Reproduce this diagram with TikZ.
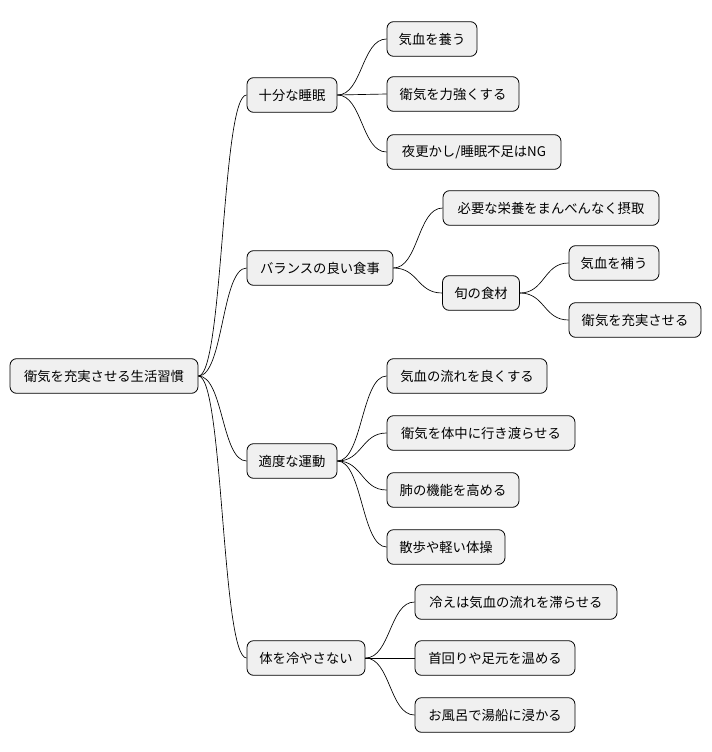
\documentclass[tikz,border=0pt]{standalone}
\usepackage{fontspec}
\newfontfamily\jp{Noto Sans CJK JP}
\begin{document}
\begin{tikzpicture}[x=0.75pt,y=-0.75pt,
  box/.style={draw=black,line width=0.6pt,fill=black!6,rounded corners=5pt,minimum height=26pt,inner sep=0pt,font=\jp\fontsize{10}{12}\selectfont},
  link/.style={draw=black,line width=0.5pt}]
\useasboundingbox (0,0) rectangle (712,752);
\newcommand\bx[4]{\node[box,minimum width=#3*0.75pt] (#1) at #2 {#4};}
\bx{r}{(104,376)}{188}{衛気を充実させる生活習慣}
\bx{a}{(292,95)}{90}{十分な睡眠}
\bx{b}{(320,268)}{146}{バランスの良い食事}
\bx{c}{(292,461)}{90}{適度な運動}
\bx{d}{(306,658)}{118}{体を冷やさない}
\bx{a1}{(432,39)}{90}{気血を養う}
\bx{a2}{(453,94)}{132}{衛気を力強くする}
\bx{a3}{(474,152)}{174}{夜更かし/睡眠不足はNG}
\bx{b1}{(551,208)}{216}{必要な栄養をまんべんなく摂取}
\bx{b2}{(481,293)}{77}{旬の食材}
\bx{b21}{(614,263)}{90}{気血を補う}
\bx{b22}{(635,320)}{132}{衛気を充実させる}
\bx{c1}{(467,376)}{160}{気血の流れを良くする}
\bx{c2}{(481,433)}{188}{衛気を体中に行き渡らせる}
\bx{c3}{(453,490)}{132}{肺の機能を高める}
\bx{c4}{(446,547)}{118}{散歩や軽い体操}
\bx{d1}{(516,602)}{202}{冷えは気血の流れを滞らせる}
\bx{d2}{(495,658)}{160}{首回りや足元を温める}
\bx{d3}{(495,715)}{160}{お風呂で湯船に浸かる}
\foreach \p/\c in {r/a,r/b,r/c,r/d,a/a1,a/a2,a/a3,b/b1,b/b2,b2/b21,b2/b22,c/c1,c/c2,c/c3,c/c4,d/d1,d/d2,d/d3}
  \draw[link] (\p.east) .. controls +(25,0) and +(-25,0) .. (\c.west);
\end{tikzpicture}
\end{document}
